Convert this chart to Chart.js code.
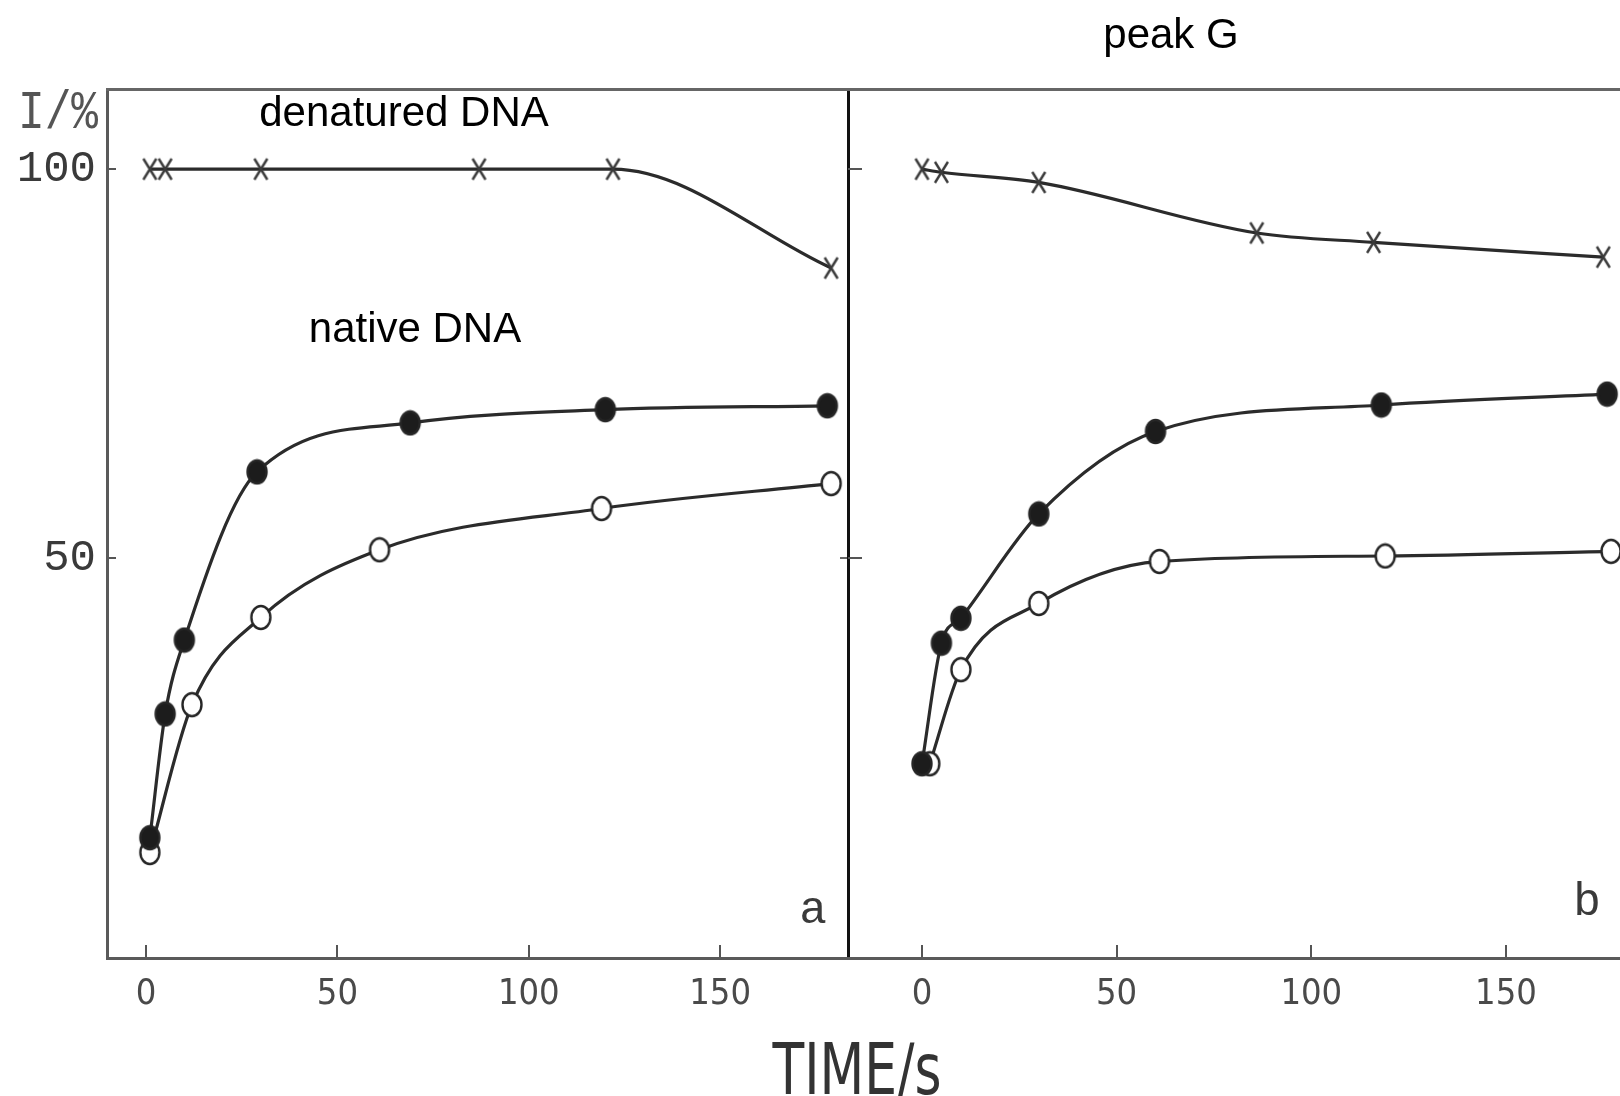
<!DOCTYPE html>
<html>
<head>
<meta charset="utf-8">
<script src="https://cdn.jsdelivr.net/npm/chart.js@4.4.1/dist/chart.umd.min.js"></script>
<style>
  html, body { margin: 0; padding: 0; background: #fff; }
  #page { position: relative; width: 1620px; height: 1096px; overflow: hidden; background: #fff; }
  canvas { position: absolute; top: 0; }
  .lbl { position: absolute; white-space: nowrap; color: #000; line-height: 1;
         font-family: "Liberation Sans", Arial, sans-serif; font-size: 42px;
         transform: translate(-50%, -50%); }
  .mono { font-family: "Liberation Mono", "Courier New", monospace; color: #3a3a3a; }
</style>
</head>
<body>
<div id="page">
  <canvas id="chartA" width="860" height="1040" style="left:0"></canvas>
  <canvas id="chartB" width="780" height="1040" style="left:840px"></canvas>

  <div class="lbl" style="left:1171px; top:34px">peak G</div>
  <div class="lbl" style="left:404px; top:112px">denatured DNA</div>
  <div class="lbl" style="left:415px; top:328px">native DNA</div>
  <div class="lbl mono" id="unitLbl" style="left:58px; top:114px; font-size:54px; color:#555">I/%</div>
  <div class="lbl mono" style="left:813px; top:911px; font-size:46px">a</div>
  <div class="lbl mono" style="left:1587px; top:903px; font-size:46px">b</div>
  <div class="lbl" id="timeLbl" style="left:857px; top:1069px; font-size:72px; color:#333;
       font-family:'Liberation Sans Narrow','DejaVu Sans Condensed',sans-serif">TIME/s</div>
</div>

<script>
const xTicks = [0, 50, 100, 150];
const yTicks = [50, 100];

// panel a
const timeDenA = [1, 5, 30, 87, 122, 179];
const denA = [100, 100, 100, 100, 100, 87.3];
const timeFilledA = [1, 5, 10, 29, 69, 120, 178];
const filledA = [14.1, 30, 39.5, 61.1, 67.4, 69.1, 69.6];
const timeOpenA = [1, 12, 30, 61, 119, 179];
const openA = [12.2, 31.2, 42.4, 51.1, 56.4, 59.6];

// panel b
const timeDenB = [0, 5, 30, 86, 116, 175];
const denB = [100, 99.6, 98.3, 91.8, 90.6, 88.7];
const timeFilledB = [0, 5, 10, 30, 60, 118, 176];
const filledB = [23.6, 39.1, 42.3, 55.7, 66.3, 69.7, 71.1];
const timeOpenB = [2, 10, 30, 61, 119, 177];
const openB = [23.6, 35.7, 44.2, 49.6, 50.3, 50.9];

const pts = (xs, ys) => xs.map((x, i) => ({ x, y: ys[i] }));

// hand-drawn looking markers: tall X, slightly oval dots
function markCross() {
  const c = document.createElement("canvas");
  c.width = 17; c.height = 25;
  const g = c.getContext("2d");
  g.strokeStyle = "#3a3a3a"; g.lineWidth = 2.4;
  g.beginPath();
  g.moveTo(2, 2); g.lineTo(15, 23);
  g.moveTo(15, 2); g.lineTo(2, 23);
  g.stroke();
  return c;
}
function markDot(filled) {
  const c = document.createElement("canvas");
  c.width = 24; c.height = 27;
  const g = c.getContext("2d");
  g.beginPath();
  g.ellipse(12, 13.5, 9.5, 11.5, 0, 0, Math.PI * 2);
  g.fillStyle = filled ? "#1c1c1c" : "#fff";
  g.fill();
  g.lineWidth = 2.4; g.strokeStyle = "#262626";
  g.stroke();
  return c;
}
const crossImg = markCross(), dotImg = markDot(true), ringImg = markDot(false);

const lineBase = {
  borderColor: "#2b2b2b",
  borderWidth: 3.2,
  cubicInterpolationMode: "monotone",
  clip: false,
  pointRadius: 12,
};
const crossSet = (xs, ys) => ({ ...lineBase, data: pts(xs, ys), pointStyle: crossImg });
const filledSet = (xs, ys) => ({ ...lineBase, data: pts(xs, ys), pointStyle: dotImg });
const openSet = (xs, ys) => ({ ...lineBase, data: pts(xs, ys), pointStyle: ringImg });

const Y_MIN = -1.35, Y_MAX = 110.3;

function xAxis(min, max) {
  return {
    type: "linear", position: "bottom", min, max,
    afterFit: (s) => { s.height = 82; },
    afterBuildTicks: (s) => { s.ticks = xTicks.map((v) => ({ value: v })); },
    grid: { display: true, drawOnChartArea: false, drawTicks: true, tickLength: -13, color: "#555", lineWidth: 2 },
    border: { display: true, color: "#5a5a5a", width: 3 },
    ticks: { padding: 28, autoSkip: false, maxRotation: 0, color: "#4a4a4a",
      font: { family: "'Liberation Sans Narrow', 'DejaVu Sans Condensed', sans-serif", size: 36 } },
  };
}
function topAxis(min, max) {
  return {
    type: "linear", position: "top", min, max,
    afterFit: (s) => { s.height = 0; },
    grid: { display: false },
    border: { display: true, color: "#666", width: 3 },
    ticks: { display: false },
  };
}

function panel(id, datasets, opts) {
  const yScale = {
    type: "linear", position: "left", min: Y_MIN, max: Y_MAX,
    afterFit: (s) => { s.width = opts.yWidth; },
    afterBuildTicks: (s) => { s.ticks = yTicks.map((v) => ({ value: v })); },
    grid: { display: true, drawOnChartArea: false, drawTicks: true, tickLength: opts.yTick, color: "#555", lineWidth: 2 },
    border: { display: opts.yBorder, color: "#5a5a5a", width: 3 },
    ticks: { display: opts.yLabels, padding: 20, color: "#3a3a3a",
      font: { family: "'Liberation Mono', 'Courier New', monospace", size: 44 } },
  };
  const scales = { x: xAxis(opts.xMin, opts.xMax), y: yScale, x2: topAxis(opts.xMin, opts.xMax) };
  if (opts.rightBorder) {
    scales.y2 = {
      type: "linear", position: "right", min: Y_MIN, max: Y_MAX,
      afterFit: (s) => { s.width = 0; },
      afterBuildTicks: (s) => { s.ticks = [{ value: yTicks[0] }]; },
      grid: { display: true, drawOnChartArea: false, drawTicks: true, tickLength: -8, color: "#666", lineWidth: 2 },
      border: { display: true, color: "#111", width: 3 },
      ticks: { display: false },
    };
  }
  return new Chart(document.getElementById(id), {
    type: "line",
    data: { datasets },
    options: {
      responsive: false,
      animation: false,
      layout: { autoPadding: false, padding: { top: 89, right: opts.padRight, left: 0, bottom: 0 } },
      plugins: { legend: { display: false }, tooltip: { enabled: false } },
      scales,
    },
  });
}

panel("chartA",
  [crossSet(timeDenA, denA), filledSet(timeFilledA, filledA), openSet(timeOpenA, openA)],
  { xMin: -10.2, xMax: 183.4, yWidth: 107, yTick: -9, yBorder: true, yLabels: true, padRight: 12, rightBorder: true });

panel("chartB",
  [crossSet(timeDenB, denB), filledSet(timeFilledB, filledB), openSet(timeOpenB, openB)],
  { xMin: -19, xMax: 179.3, yWidth: 8, yTick: -14, yBorder: false, yLabels: false, padRight: 0, rightBorder: false });

// squeeze text blocks to the widths seen in the figure
function fitWidth(el, w) {
  el.style.transform = "translate(-50%, -50%) scaleX(" + (w / el.offsetWidth) + ")";
}
fitWidth(document.getElementById("timeLbl"), 169);
fitWidth(document.getElementById("unitLbl"), 80);
</script>
</body>
</html>
